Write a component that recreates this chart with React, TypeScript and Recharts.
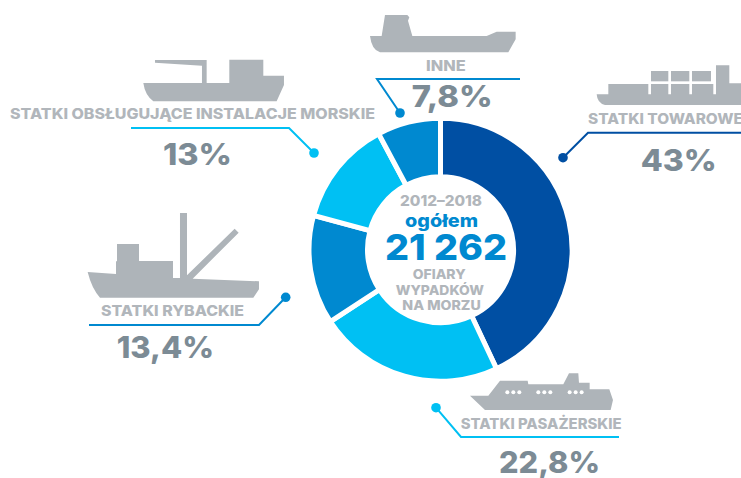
import { PieChart, Pie, Cell } from "recharts";

const categories = [
  "Statki towarowe",
  "Statki pasażerskie",
  "Statki rybackie",
  "Statki obsługujące instalacje morskie",
  "Inne",
];
const shares = [43, 22.8, 13.4, 13, 7.8];
const COLORS = ["#004fa3", "#00c0f3", "#0089d0", "#00c0f3", "#0089d0"];

const data = categories.map((name, i) => ({ name, value: shares[i] }));

const FONT = "Inter, sans-serif";
const GREY = "#b1b6bb";
const SHIP = "#aeb4b9";
const PCT = "#7c8b95";

// ship outlines are traced at 3x, so each group scales back down
const Ship = ({ x, y, d, children }: any) => (
  <g transform={`translate(${x} ${y}) scale(0.3333)`} fill={SHIP}>
    <path d={d} />
    {children}
  </g>
);

// the original face is wider than Inter, so text is stretched to its measured width
const Label = ({ x, y, w, text, size = 14.5, color = GREY }: any) => (
  <text
    x={x}
    y={y}
    textLength={w}
    lengthAdjust="spacingAndGlyphs"
    fontFamily={FONT}
    fontWeight={800}
    fontSize={size}
    fill={color}
  >
    {text}
  </text>
);

const Leader = ({ points, color, dot }: any) => (
  <g>
    <polyline points={points} fill="none" stroke={color} strokeWidth={2} />
    <circle cx={dot[0]} cy={dot[1]} r={4.8} fill={color} />
  </g>
);

const App = () => (
  <div
    style={{
      position: "absolute",
      left: 0,
      top: 0,
      width: 741,
      height: 478,
      overflow: "hidden",
      background: "#fff",
    }}
  >
    <PieChart width={741} height={478} margin={{ top: 0, right: 0, bottom: 0, left: 0 }}>
      <Pie
        data={data}
        dataKey="value"
        nameKey="name"
        cx={440.5}
        cy={249.7}
        innerRadius={73}
        outerRadius={131.5}
        startAngle={90}
        endAngle={-270}
        stroke="#fff"
        strokeWidth={5}
        isAnimationActive={false}
      >
        {data.map((entry, index) => (
          <Cell key={`cell-${index}`} fill={COLORS[index]} />
        ))}
      </Pie>
    </PieChart>

    <svg
      width={741}
      height={478}
      style={{ position: "absolute", left: 0, top: 0, pointerEvents: "none" }}
    >
      {/* centre */}
      <Label x={400} y={206} w={82} text="2012–2018" size={15} />
      <Label x={405} y={227} w={73} text="ogółem" size={18} color="#0089d0" />
      <Label x={385} y={260} w={122} text="21 262" size={36} color="#0089d0" />
      <Label x={412.7} y={279} w={53} text="OFIARY" size={13.5} />
      <Label x={395.7} y={295} w={88.3} text="WYPADKÓW" size={13.5} />
      <Label x={402.3} y={310} w={78.4} text="NA MORZU" size={13.5} />

      {/* offshore */}
      <Ship
        x={0}
        y={0}
        d="M465,180 L620,180 L620,249 L688,249 L688,179 L790,179 L790,227 L852,227 L852,255 L830,304 L460,304 Q435,285 430,249 L606,249 L606,197 L465,188 Z"
      />
      <Label x={10} y={119} w={365} text="STATKI OBSŁUGUJĄCE INSTALACJE MORSKIE" />
      <Leader points="131,128 289,128 314,153" color="#00c0f3" dot={[314, 153]} />
      <Label x={163} y={165} w={69} text="13%" size={30} color={PCT} />

      {/* other */}
      <Ship
        x={350}
        y={0}
        d="M60,108 L95,108 L105,45 L172,45 L178,52 L174,62 L187,108 L410,108 L440,95 L497,95 L497,118 L475,157 L90,157 Q65,150 60,108 Z"
      />
      <Label x={426} y={71} w={39.7} text="INNE" />
      <Leader points="520,79 377,79 400,113" color="#0089d0" dot={[400, 113]} />
      <Label x={411.7} y={107} w={81} text="7,8%" size={30} color={PCT} />

      {/* cargo */}
      <Ship
        x={540}
        y={50}
        d="M170,133 L205,133 L205,102 L325,102 L325,133 L333,133 L333,102 L385,102 L385,133 L393,133 L393,102 L448,102 L448,133 L456,133 L456,102 L520,102 L520,133 L528,133 L528,46 L568,46 L568,100 L620,100 L620,165 L195,165 Q172,160 170,133 Z"
      >
        <rect x={333} y={63} width={52} height={31} />
        <rect x={393} y={63} width={55} height={31} />
        <rect x={456} y={63} width={57} height={31} />
      </Ship>
      <Label x={588} y={124} w={155} text="STATKI TOWAROWE" />
      <Leader points="741,132.7 588,132.7 563,157.7" color="#004fa3" dot={[563, 157.7]} />
      <Label x={640.7} y={170.7} w={76} text="43%" size={30} color={PCT} />

      {/* fishing */}
      <Ship
        x={60}
        y={200}
        d="M83,216 L168,222 L168,184 L171,184 L171,132 L237,132 L237,183 L339,183 L339,234 L360,234 L360,39 L381,39 L381,226 L524,86 L536,98 L398,236 L597,244 L597,268 L580,293 L120,293 Q95,265 83,216 Z"
      />
      <Label x={101} y={315.7} w={143} text="STATKI RYBACKIE" />
      <Leader points="89,325 259,325 285.7,297.3" color="#0089d0" dot={[285.7, 297.3]} />
      <Label x={116.7} y={358} w={97.3} text="13,4%" size={30} color={PCT} />

      {/* passenger */}
      <Ship
        x={420}
        y={360}
        d="M150,107 L205,107 L240,62 L323,62 L325,73 L430,73 L447,40 L475,40 L477,68 L509,68 L509,88 L568,88 L579,120 L572,150 L195,150 Z"
      >
        {[262, 280, 298, 355, 373, 391, 449, 467, 485].map((cx) => (
          <circle key={cx} cx={cx} cy={97} r={6} fill="#fff" />
        ))}
      </Ship>
      <Label x={460.7} y={429.3} w={161} text="STATKI PASAŻERSKIE" />
      <Leader points="619,437 461,437 436,407.7" color="#00c0f3" dot={[436, 407.7]} />
      <Label x={499} y={473} w={101} text="22,8%" size={30} color={PCT} />
    </svg>
  </div>
);

export default App;
